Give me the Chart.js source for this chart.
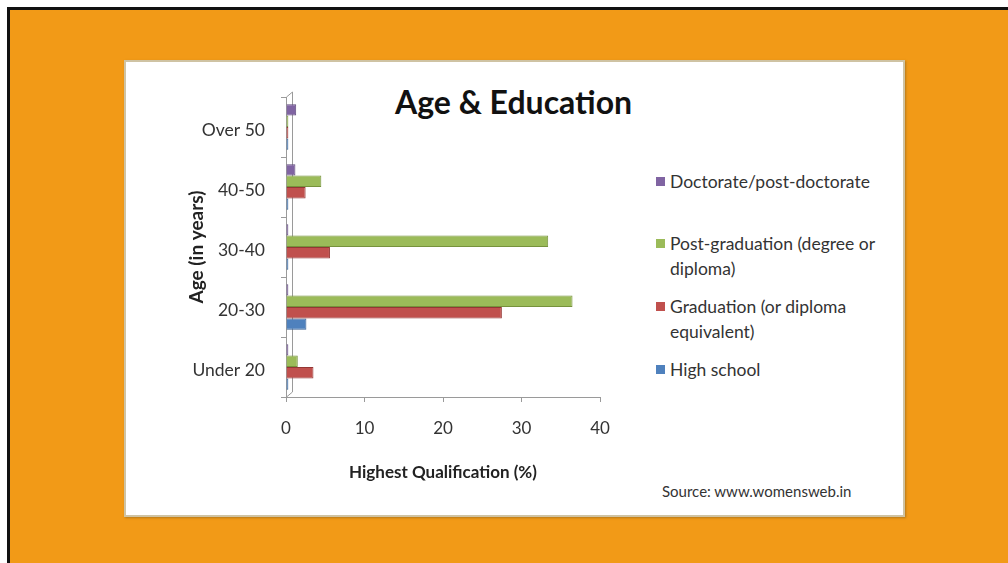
<!DOCTYPE html>
<html>
<head>
<meta charset="utf-8">
<script src="https://cdn.jsdelivr.net/npm/chart.js@4.4.1/dist/chart.umd.min.js"></script>
<style>
  html, body { margin:0; padding:0; }
  body { width:1008px; height:563px; position:relative; overflow:hidden; background:#ffffff; font-family: Lato, "Open Sans", sans-serif; }
  #frame { position:absolute; left:7px; top:7px; width:1001px; height:556px; background:#F29A17; border-top:3px solid #111; border-left:3px solid #111; box-sizing:border-box; }
  #panel { position:absolute; left:124px; top:60px; width:781px; height:457px; background:#fff; border:2px solid #cfc3a3; box-sizing:border-box; box-shadow: 1px 1px 2px rgba(120,90,30,0.5); }
  #title { position:absolute; left:395px; top:82px; font-weight:bold; font-size:32px; color:#111; line-height:40px; white-space:nowrap; }
  #legend { position:absolute; left:656px; top:0; width:240px; font-size:17.5px; color:#333; }
  .item { position:absolute; left:0; width:240px; line-height:25px; }
  .sw { position:absolute; left:0; top:8px; width:9px; height:9px; }
  .txt { position:absolute; left:14px; white-space:nowrap; }
  #source { position:absolute; left:662px; top:482px; font-size:15px; color:#333; }
  canvas { position:absolute; left:0; top:0; }
</style>
</head>
<body>
<div id="frame"></div>
<div id="panel"></div>
<div id="title">Age &amp; Education</div>
<div id="legend"></div>
<div id="source">Source: www.womensweb.in</div>
<canvas id="c" width="1008" height="563"></canvas>
<script>
// Categories (top to bottom)
const ageGroups = ["Over 50", "40-50", "30-40", "20-30", "Under 20"];
// Series values (% of respondents), same order as ageGroups
const doctorate   = [1.3, 1.2, 0.3, 0.3, 0.3];
const postGrad    = [0.3, 4.5, 33.4, 36.5, 1.5];
const graduation  = [0.3, 2.5, 5.6, 27.5, 3.5];
const highSchool  = [0.3, 0.3, 0.3, 2.6, 0.3];
const xTicks = [0, 10, 20, 30, 40];

const seriesNames = ["Doctorate/post-doctorate", "Post-graduation (degree or diploma)", "Graduation (or diploma equivalent)", "High school"];
const legendLines = [["Doctorate/post-doctorate"], ["Post-graduation (degree or", "diploma)"], ["Graduation (or diploma", "equivalent)"], ["High school"]];
const colors = ["#8064A2", "#9BBB59", "#C0504D", "#4F81BD"];
const borders = ["#5f4a7d", "#76923c", "#943634", "#365f91"];
const seriesData = [doctorate, postGrad, graduation, highSchool];

// HTML legend
const legendTops = [169, 231, 294, 357];
const lg = document.getElementById('legend');
seriesNames.forEach((n, i) => {
  const d = document.createElement('div');
  d.className = 'item';
  d.style.top = legendTops[i] + 'px';
  d.innerHTML = '<span class="sw" style="background:' + colors[i] + '"></span><span class="txt">' + legendLines[i].join('<br>') + '</span>';
  lg.appendChild(d);
});

const wallPlugin = {
  id: 'wall',
  beforeDatasetsDraw(chart) {
    const {ctx, chartArea} = chart;
    const x0 = chart.scales.x.getPixelForValue(0);
    ctx.save();
    ctx.strokeStyle = '#9a9a9a';
    ctx.lineWidth = 1;
    ctx.beginPath();
    ctx.moveTo(x0 + 6.5, chartArea.top - 5);
    ctx.lineTo(x0 + 6.5, chartArea.bottom - 5);
    ctx.lineTo(x0 + 0.5, chartArea.bottom);
    ctx.moveTo(x0 + 6.5, chartArea.top - 5);
    ctx.lineTo(x0 + 0.5, chartArea.top);
    ctx.stroke();
    ctx.restore();
  }
};

new Chart(document.getElementById('c'), {
  type: 'bar',
  data: {
    labels: ageGroups,
    datasets: seriesData.map((d, i) => ({
      label: seriesNames[i],
      data: d,
      backgroundColor: colors[i],
      borderColor: borders[i],
      borderWidth: 1,
      categoryPercentage: 0.76,
      barPercentage: 1.0
    }))
  },
  options: {
    indexAxis: 'y',
    responsive: false,
    animation: false,
    layout: { padding: { left: 180, right: 408, top: 97, bottom: 76 } },
    plugins: { legend: { display: false }, tooltip: { enabled: false }, title: { display: false } },
    scales: {
      x: {
        min: 0, max: 40,
        afterBuildTicks(s) { s.ticks = xTicks.map(v => ({ value: v })); },
        ticks: { color: '#333', font: { family: 'Lato', size: 17 }, padding: 16 },
        grid: { drawOnChartArea: false, drawTicks: true, tickLength: 5, color: '#9a9a9a' },
        border: { color: '#9a9a9a' },
        title: { display: true, text: 'Highest Qualification (%)', color: '#222', font: { family: 'Lato', size: 17, weight: 'bold' }, padding: { top: 0, bottom: 4 } },
        afterFit(s) { s.height = 90; }
      },
      y: {
        ticks: { color: '#333', font: { family: 'Lato', size: 17.5 }, padding: 16, labelOffset: 3 },
        grid: { offset: true, drawOnChartArea: false, drawTicks: true, tickLength: 5, color: '#9a9a9a' },
        border: { color: '#9a9a9a' },
        title: { display: true, text: 'Age (in years)', color: '#222', font: { family: 'Lato', size: 19, weight: 'bold' }, padding: { top: 5, bottom: 0 } },
        afterFit(s) { s.width = 106; }
      }
    }
  },
  plugins: [wallPlugin]
});
</script>
</body>
</html>
